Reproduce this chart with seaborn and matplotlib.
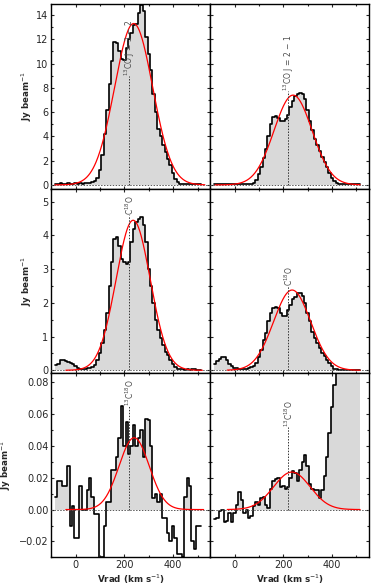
import numpy as np
import matplotlib
matplotlib.use("Agg")
import matplotlib.pyplot as plt
import seaborn as sns
from matplotlib.ticker import MultipleLocator, AutoMinorLocator

# channel centres (km/s), 10 km/s channels
vel = np.arange(-80, 520, 10)

co32 = [0.1, 0.1, 0.12, 0.1, 0.1, 0.12, 0.1, 0.1, 0.12, 0.1, 0.12, 0.1, 0.12,
        0.15, 0.15, 0.2, 0.3, 0.6, 1.2, 2.5, 4.2, 6.2, 8.3, 10.2, 11.8, 11.7,
        11.0, 10.4, 10.3, 11.3, 12.0, 12.5, 13.2, 13.3, 14.2, 14.8, 14.3, 12.2,
        10.8, 9.5, 7.5, 6.0, 4.6, 4.0, 3.3, 2.7, 2.1, 1.6, 1.0, 0.5, 0.2,
        0.05, 0.05, 0.06, 0.05, 0.05, 0.06, 0.05, 0.05, 0.05]
co21 = [0.05] * 16 + [
        0.15, 0.4, 0.9, 1.5, 2.2, 3.0, 4.0, 5.0, 5.6, 5.7, 5.5, 5.3, 5.3, 5.4,
        5.8, 6.4, 6.9, 7.3, 7.5, 7.6, 7.5, 7.1, 6.2, 5.3, 4.5, 3.8, 3.3, 2.8,
        2.3, 1.9, 1.5, 1.0, 0.6, 0.3, 0.15] + [0.05] * 9
c18o_a = [0.15, 0.2, 0.3, 0.3, 0.27, 0.25, 0.22, 0.2, 0.12, 0.08,
          0.05, 0.04, 0.05, 0.06, 0.08, 0.1, 0.15, 0.3, 0.5, 0.8,
          1.2, 1.7, 2.5, 3.2, 3.9, 3.95, 3.7, 3.3, 3.2, 3.15,
          3.2, 3.8, 4.2, 4.4, 4.5, 4.55, 4.3, 3.8, 3.0, 2.5,
          2.0, 1.5, 1.2, 0.95, 0.75, 0.55, 0.45, 0.3, 0.2, 0.1,
          0.05, 0.03, 0.03, 0.02, 0.03, 0.02, 0.03, 0.03, 0.02, 0.02]
c18o_b = [0.2, 0.28, 0.33, 0.38, 0.38, 0.3, 0.2, 0.12, 0.08, 0.06,
          0.05, 0.05, 0.05, 0.05, 0.06, 0.1, 0.14, 0.22, 0.38, 0.6,
          0.9, 1.1, 1.45, 1.7, 1.85, 1.87, 1.85, 1.7, 1.6, 1.62,
          1.8, 1.95, 2.1, 2.18, 2.3, 2.28, 2.2, 2.0, 1.7, 1.45,
          1.15, 0.95, 0.8, 0.65, 0.52, 0.42, 0.32, 0.22, 0.12, 0.05,
          0.03, 0.02, 0.02, 0.02, 0.02, 0.02, 0.02, 0.02, 0.02, 0.02]
c13c18o_a = [0.008, 0.018, 0.018, 0.015, 0.015, 0.027, -0.01, 0.002, -0.018, -0.018,
             0.015, 0.0, 0.0, 0.012, 0.02, 0.008, -0.003, -0.003, -0.035, -0.03,
             -0.01, 0.005, 0.005, 0.025, 0.025, 0.033, 0.045, 0.065, 0.04, 0.055,
             0.035, 0.04, 0.053, 0.04, 0.045, 0.05, 0.033, 0.057, 0.056, 0.04,
             0.007, 0.01, 0.005, 0.01, -0.005, -0.005, -0.015, -0.02, -0.01, -0.018,
             -0.028, -0.028, -0.03, 0.008, 0.02, 0.015, -0.02, -0.025, -0.01, -0.01]
c13c18o_b = [-0.006, -0.005, -0.001, 0.0, -0.008, -0.007, -0.002, -0.008, -0.002, 0.003,
             0.011, 0.006, -0.002, 0.0, -0.005, -0.004, 0.002, 0.005, 0.003, 0.007,
             0.008, 0.003, 0.001, 0.013, 0.018, 0.019, 0.02, 0.014, 0.015, 0.013,
             0.014, 0.02, 0.024, 0.023, 0.018, 0.025, 0.03, 0.034, 0.027, 0.016,
             0.013, 0.012, 0.012, 0.007, 0.012, 0.021, 0.033, 0.048, 0.064, 0.078,
             0.095, 0.11, 0.13, 0.15, 0.15, 0.16, 0.16, 0.17, 0.17, 0.17]

spectra = [co32, co21, c18o_a, c18o_b, c13c18o_a, c13c18o_b]
line_names = ["$^{13}$CO J = 3 \u2212 2", "$^{13}$CO J = 2 \u2212 1",
              "C$^{18}$O", "C$^{18}$O",
              "$^{13}$C$^{18}$O", "$^{13}$C$^{18}$O"]

# gaussian fits: amplitude, centre, sigma
fit_amp = [13.3, 7.4, 4.45, 2.38, 0.045, 0.0235]
fit_cen = [238, 240, 236, 236, 240, 235]
fit_sig = [78, 78, 70, 76, 62, 75]
fit_lo = [-85, -80, -40, -30, -40, -30]
fit_hi = [530, 515, 520, 515, 525, 515]

v_sys = 221
label_y = [9.0, 7.7, 4.6, 2.5, 0.065, 0.052]

row_ylim = [(-0.3, 14.9), (-0.08, 5.39), (-0.030, 0.0856)]
row_ystep = [2, 1, 0.02]

sns.set_style("ticks")
plt.rcParams.update({
    "font.family": ["DejaVu Sans"],
    "font.size": 7,
    "xtick.direction": "in", "ytick.direction": "in",
    "xtick.top": True, "ytick.right": True,
    "xtick.major.size": 2.5, "ytick.major.size": 2.5,
    "xtick.minor.size": 1.5, "ytick.minor.size": 1.5,
    "xtick.major.pad": 2, "ytick.major.pad": 2,
    "axes.linewidth": 1.0,
    "axes.edgecolor": "black",
})

fig, axes = plt.subplots(3, 2, figsize=(3.74, 5.88), dpi=100,
                         sharex=True, sharey="row",
                         gridspec_kw=dict(hspace=0, wspace=0))
fig.subplots_adjust(left=0.137, right=0.987, top=0.993, bottom=0.052)

edges = np.append(vel - 5, vel[-1] + 5)
for i, ax in enumerate(axes.flat):
    y = np.array(spectra[i])
    yy = np.append(y, y[-1])
    ax.fill_between(edges, 0, np.clip(yy, 0, None), step="post",
                    color="0.85", lw=0, zorder=1)
    ax.step(edges, yy, where="post", color="black", lw=1.2, zorder=2)
    ax.axhline(0, color="0.35", lw=0.7, ls=(0, (1.5, 1.5)), zorder=3)

    vf = np.linspace(fit_lo[i], fit_hi[i], 300)
    gf = fit_amp[i] * np.exp(-0.5 * ((vf - fit_cen[i]) / fit_sig[i]) ** 2)
    sns.lineplot(x=vf, y=gf, color="red", lw=0.9, ax=ax, zorder=4)

    ax.plot([v_sys, v_sys], [0, label_y[i]], color="0.2", lw=0.7,
            ls=(0, (1.5, 1.5)), zorder=5)
    ax.text(v_sys, label_y[i], line_names[i], rotation=90, ha="center",
            va="bottom", fontsize=5.5, color="0.3", zorder=6)

    r = i // 2
    ax.set_ylim(*row_ylim[r])
    ax.yaxis.set_major_locator(MultipleLocator(row_ystep[r]))
    ax.yaxis.set_minor_locator(AutoMinorLocator(2))
    ax.set_xlim(-100, 552)
    ax.xaxis.set_major_locator(MultipleLocator(200))
    ax.xaxis.set_minor_locator(AutoMinorLocator(2))
    ax.tick_params(which="both", top=True, right=True, width=0.8)
    if i % 2 == 0:
        ax.set_ylabel("Jy beam$^{-1}$", fontweight="bold", fontsize=6.3,
                      labelpad=4)
        if r < 2:
            ax.yaxis.set_label_coords(-0.108, 0.5)
    else:
        ax.set_ylabel("")
    if r == 2:
        ax.set_xlabel("Vrad (km s$^{-1}$)", fontweight="bold", fontsize=6.3,
                      labelpad=1.5)
    else:
        ax.set_xlabel("")

fig.savefig("out.png", dpi=100)
